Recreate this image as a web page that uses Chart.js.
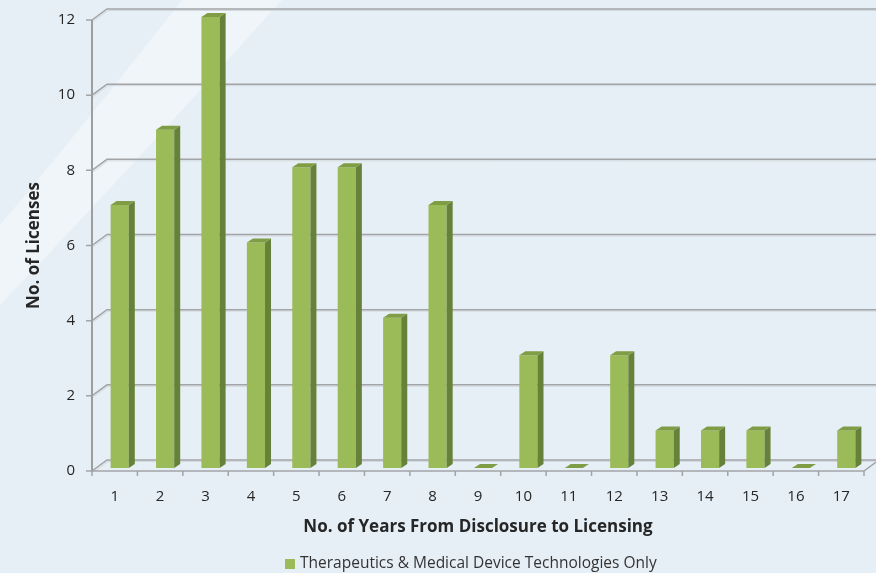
<!DOCTYPE html>
<html lang="en">
<head>
    <meta charset="UTF-8">
    <title>Licenses by Years From Disclosure</title>
    <script src="https://cdn.jsdelivr.net/npm/chart.js"></script>
    <style>
        html, body { margin: 0; padding: 0; background: #e6eff6; }
    </style>
</head>
<body>
    <canvas id="licChart" width="876" height="573"></canvas>

    <script>
        const years = ['1', '2', '3', '4', '5', '6', '7', '8', '9', '10', '11', '12', '13', '14', '15', '16', '17'];
        const licenses = [7, 9, 12, 6, 8, 8, 4, 7, 0, 3, 0, 3, 1, 1, 1, 0, 1];
        const yTicks = [0, 2, 4, 6, 8, 10, 12];
        const seriesLabel = 'Therapeutics & Medical Device Technologies Only';
        const xTitle = 'No. of Years From Disclosure to Licensing';
        const yTitle = 'No. of Licenses';

        const FONT = 'Open Sans';
        const TEXT = '#262626';
        const GREEN = '#9bbb59';
        const DEPTH_X = 15, DEPTH_Y = 11;   // back wall offset
        const BAR_DX = 6, BAR_DY = 4;       // bar side/top depth

        // light blue backdrop with the pale diagonal band
        const backdrop = {
            id: 'backdrop',
            beforeDraw(chart) {
                const c = chart.ctx;
                c.save();
                c.fillStyle = '#e6eff6';
                c.fillRect(0, 0, chart.width, chart.height);
                c.fillStyle = '#eff5f9';
                c.beginPath();
                c.moveTo(0, 225);
                c.quadraticCurveTo(80, 130, 182, 0);
                c.lineTo(282, 0);
                c.quadraticCurveTo(120, 180, 0, 305);
                c.closePath();
                c.fill();
                c.restore();
            }
        };

        function line(c, pts) {
            c.beginPath();
            c.moveTo(pts[0][0], pts[0][1]);
            for (let i = 1; i < pts.length; i++) c.lineTo(pts[i][0], pts[i][1]);
            c.stroke();
        }

        // back wall gridlines, front axis and floor edge
        const walls = {
            id: 'walls',
            beforeDatasetsDraw(chart) {
                const c = chart.ctx;
                const { left, right, top, bottom } = chart.chartArea;
                const y = chart.scales.y, x = chart.scales.x;
                c.save();
                yTicks.forEach(v => {
                    const py = y.getPixelForValue(v);
                    c.strokeStyle = '#d3dade';
                    c.lineWidth = 1;
                    line(c, [[left + 1, py + 1.5], [left + DEPTH_X + 1, py - DEPTH_Y + 1.5], [chart.width, py - DEPTH_Y + 1.5]]);
                    c.strokeStyle = '#a2a4a6';
                    c.lineWidth = 1.5;
                    line(c, [[left - 6, py], [left, py], [left + DEPTH_X, py - DEPTH_Y], [chart.width, py - DEPTH_Y]]);
                });
                // floor front edge and right end
                c.strokeStyle = '#a2a4a6';
                c.lineWidth = 1.5;
                line(c, [[left, bottom], [right, bottom], [right + 12, bottom - 9]]);
                for (let i = 0; i <= years.length; i++) {
                    const px = x.getPixelForValue(i - 0.5);
                    line(c, [[px, bottom], [px, bottom + 5]]);
                }
                // front vertical axis
                c.lineWidth = 2;
                c.strokeStyle = '#9c9ea0';
                line(c, [[left, top], [left, bottom]]);
                c.restore();

                // bars sit half way into the depth
                c.save();
                c.translate(5, -3);
            },
            afterDatasetsDraw(chart) {
                const c = chart.ctx;
                const meta = chart.getDatasetMeta(0);
                meta.data.forEach(bar => {
                    const l = bar.x - bar.width / 2, r = bar.x + bar.width / 2;
                    const t = bar.y, b = bar.base;
                    c.fillStyle = '#66813a';
                    c.beginPath();
                    c.moveTo(r, t); c.lineTo(r + BAR_DX, t - BAR_DY);
                    c.lineTo(r + BAR_DX, b - BAR_DY); c.lineTo(r, b);
                    c.closePath(); c.fill();
                    c.fillStyle = '#7f9d45';
                    c.beginPath();
                    c.moveTo(l, t); c.lineTo(l + BAR_DX, t - BAR_DY);
                    c.lineTo(r + BAR_DX, t - BAR_DY); c.lineTo(r, t);
                    c.closePath(); c.fill();
                });
                c.restore();
            }
        };

        // legend drawn under the axis title
        const legendBox = {
            id: 'legendBox',
            afterDraw(chart) {
                const c = chart.ctx;
                c.save();
                c.fillStyle = GREEN;
                c.fillRect(285, 559, 10, 10);
                c.fillStyle = '#333333';
                c.font = '15.5px "' + FONT + '"';
                c.textBaseline = 'middle';
                c.textAlign = 'left';
                c.fillText(seriesLabel, 300, 564);
                c.restore();
            }
        };

        const ctx = document.getElementById('licChart').getContext('2d');
        new Chart(ctx, {
            type: 'bar',
            data: {
                labels: years,
                datasets: [{
                    label: seriesLabel,
                    data: licenses,
                    backgroundColor: GREEN,
                    borderWidth: 0,
                    categoryPercentage: 1,
                    barPercentage: 0.4,
                    clip: false
                }]
            },
            options: {
                responsive: false,
                animation: false,
                layout: { padding: { top: 20, right: 12, left: 0, bottom: 36 } },
                plugins: {
                    legend: { display: false },
                    tooltip: { enabled: false }
                },
                scales: {
                    x: {
                        afterFit(s) { s.height = 66; },
                        grid: { display: false, drawTicks: false },
                        border: { display: false },
                        ticks: { padding: 17, color: TEXT, font: { family: FONT, size: 15 } },
                        title: {
                            display: true, text: xTitle, color: TEXT,
                            font: { family: FONT, size: 17, weight: 'bold' },
                            padding: { top: 0, bottom: 0 }
                        }
                    },
                    y: {
                        min: 0, max: 12,
                        afterFit(s) { s.width = 92; },
                        afterBuildTicks(s) { s.ticks = yTicks.map(v => ({ value: v })); },
                        grid: { display: false, drawTicks: true, tickLength: 17 },
                        border: { display: false },
                        ticks: { padding: 0, color: TEXT, font: { family: FONT, size: 15 } },
                        title: {
                            display: true, text: yTitle, color: TEXT,
                            font: { family: FONT, size: 17, weight: 'bold' },
                            padding: { top: 24, bottom: 0 }
                        }
                    }
                }
            },
            plugins: [backdrop, walls, legendBox]
        });
    </script>
</body>
</html>
